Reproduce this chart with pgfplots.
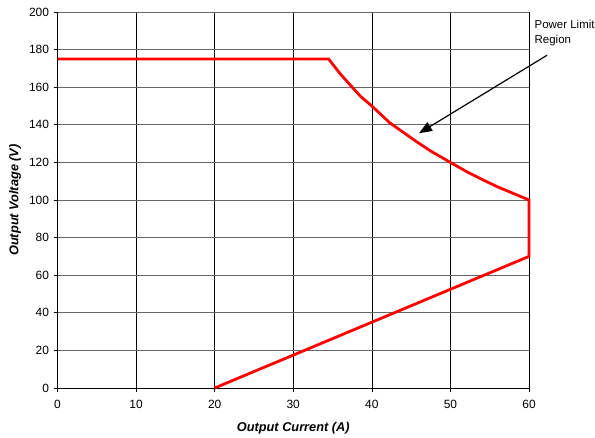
\documentclass[border=0pt]{standalone}
\usepackage{pgfplots}
\pgfplotsset{compat=1.18}
\usepackage{fontspec}
\setmainfont{Liberation Sans}
\usetikzlibrary{arrows.meta}

\begin{document}
\begin{tikzpicture}
\begin{axis}[
  scale only axis,
  width=471.5bp, height=376bp,
  xmin=0, xmax=60, ymin=0, ymax=200,
  xtick={0,10,...,60}, ytick={0,20,...,200},
  axis lines*=left,
  axis line style={black, line width=0.8bp},
  tick style={black, line width=0.6bp},
  tick align=outside,
  major tick length=4bp,
  xmajorgrids, ymajorgrids,
  major x grid style={black, line width=0.6bp},
  major y grid style={black!60, line width=0.8bp},
  ticklabel style={font=\fontsize{12}{14}\selectfont},
  /pgf/number format/assume math mode=true,
  xticklabel style={yshift=-5bp},
  yticklabel style={xshift=-1bp},
  xlabel={\textbf{\textit{Output Current (A)}}},
  ylabel={\textbf{\textit{Output Voltage (V)}}},
  label style={font=\fontsize{12.8}{15}\selectfont},
  xlabel style={at={(axis description cs:0.5,-0.106)}, anchor=center},
  ylabel style={at={(axis description cs:-0.09,0.5)}, anchor=center},
  clip=false,
]
% output envelope
\addplot[red, line width=2.8bp] coordinates {
  (0,175) (34.5,175) (36,167) (37.5,160) (38.6,155) (40,150)
  (42.3,141) (45.7,131) (47.5,126) (50,120) (52.1,115) (54,111)
  (56,107) (60,100) (60,70) (20,0)
};
% annotation
\draw[-{Triangle[length=13bp,width=10bp]}, line width=1.2bp]
  (axis cs:62.3,177) -- (axis cs:46,135.5);
\node[anchor=north west, align=left, inner sep=0pt,
      font=\fontsize{11.5}{15}\selectfont]
  at (axis cs:60.7,195.5) {Power Limit\\Region};
\end{axis}
\path (current axis.south west) ++(-57.5bp,-50bp) rectangle ++(595bp,438bp);
\end{tikzpicture}
\end{document}
